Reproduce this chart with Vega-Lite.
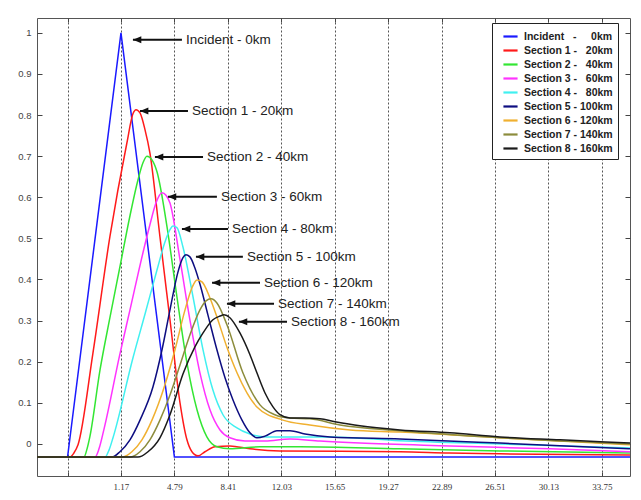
{
  "$schema": "https://vega.github.io/schema/vega-lite/v6.json",
  "width": 593,
  "height": 458,
  "autosize": {"type": "none"},
  "padding": {"left": 37, "top": 18, "right": 11, "bottom": 24},
  "background": "white",
  "config": {
    "view": {"stroke": "#555", "strokeWidth": 1},
    "font": "Liberation Sans"
  },
  "datasets": {
    "curves": [
      {"s":0,"x":-4.52,"y":-0.032},{"s":0,"x":-2.45,"y":-0.032},{"s":0,"x":1.17,"y":1.0},{"s":0,"x":4.79,"y":-0.032},{"s":0,"x":35.66,"y":-0.032},

      {"s":1,"x":-4.52,"y":-0.032},{"s":1,"x":-2.29,"y":-0.032},{"s":1,"x":-2.02,"y":-0.022},{"s":1,"x":-1.74,"y":-0.002},{"s":1,"x":-0.73,"y":0.221},{"s":1,"x":0.42,"y":0.504},{"s":1,"x":1.57,"y":0.732},{"s":1,"x":1.98,"y":0.803},{"s":1,"x":2.19,"y":0.813},{"s":1,"x":2.46,"y":0.805},{"s":1,"x":2.80,"y":0.764},{"s":1,"x":3.13,"y":0.708},{"s":1,"x":3.81,"y":0.504},{"s":1,"x":4.49,"y":0.302},{"s":1,"x":5.17,"y":0.100},{"s":1,"x":5.64,"y":0.010},{"s":1,"x":5.98,"y":-0.019},{"s":1,"x":6.39,"y":-0.029},{"s":1,"x":6.86,"y":-0.019},{"s":1,"x":7.54,"y":-0.007},{"s":1,"x":8.55,"y":-0.005},{"s":1,"x":9.91,"y":-0.012},{"s":1,"x":11.94,"y":-0.017},{"s":1,"x":20.07,"y":-0.019},{"s":1,"x":23.4,"y":-0.022},{"s":1,"x":26.85,"y":-0.024},{"s":1,"x":35.66,"y":-0.027},

      {"s":2,"x":-4.52,"y":-0.032},{"s":2,"x":-1.34,"y":-0.032},{"s":2,"x":-1.13,"y":-0.012},{"s":2,"x":-0.93,"y":0.019},{"s":2,"x":-0.25,"y":0.180},{"s":2,"x":0.42,"y":0.307},{"s":2,"x":1.10,"y":0.431},{"s":2,"x":1.78,"y":0.555},{"s":2,"x":2.32,"y":0.642},{"s":2,"x":2.66,"y":0.684},{"s":2,"x":2.93,"y":0.700},{"s":2,"x":3.27,"y":0.691},{"s":2,"x":3.61,"y":0.662},{"s":2,"x":4.29,"y":0.528},{"s":2,"x":4.96,"y":0.358},{"s":2,"x":5.64,"y":0.197},{"s":2,"x":6.32,"y":0.083},{"s":2,"x":6.99,"y":0.017},{"s":2,"x":7.67,"y":-0.007},{"s":2,"x":8.55,"y":-0.012},{"s":2,"x":10.59,"y":-0.007},{"s":2,"x":13.30,"y":-0.007},{"s":2,"x":20.07,"y":-0.012},{"s":2,"x":26.85,"y":-0.017},{"s":2,"x":35.66,"y":-0.022},

      {"s":3,"x":-4.52,"y":-0.032},{"s":3,"x":-0.59,"y":-0.032},{"s":3,"x":-0.32,"y":-0.012},{"s":3,"x":0.02,"y":0.036},{"s":3,"x":1.10,"y":0.219},{"s":3,"x":1.78,"y":0.326},{"s":3,"x":2.66,"y":0.465},{"s":3,"x":3.13,"y":0.533},{"s":3,"x":3.54,"y":0.586},{"s":3,"x":3.95,"y":0.611},{"s":3,"x":4.22,"y":0.605},{"s":3,"x":4.49,"y":0.586},{"s":3,"x":5.17,"y":0.448},{"s":3,"x":5.84,"y":0.302},{"s":3,"x":6.52,"y":0.173},{"s":3,"x":7.20,"y":0.083},{"s":3,"x":7.88,"y":0.034},{"s":3,"x":8.55,"y":0.015},{"s":3,"x":9.57,"y":0.007},{"s":3,"x":10.93,"y":0.007},{"s":3,"x":12.62,"y":0.012},{"s":3,"x":14.65,"y":0.007},{"s":3,"x":17.36,"y":0.002},{"s":3,"x":23.46,"y":-0.005},{"s":3,"x":30.24,"y":-0.012},{"s":3,"x":35.66,"y":-0.019},

      {"s":4,"x":-4.52,"y":-0.032},{"s":4,"x":0.09,"y":-0.032},{"s":4,"x":0.36,"y":-0.015},{"s":4,"x":0.63,"y":0.015},{"s":4,"x":1.98,"y":0.209},{"s":4,"x":2.80,"y":0.316},{"s":4,"x":3.61,"y":0.423},{"s":4,"x":4.15,"y":0.491},{"s":4,"x":4.49,"y":0.521},{"s":4,"x":4.69,"y":0.530},{"s":4,"x":4.96,"y":0.526},{"s":4,"x":5.37,"y":0.479},{"s":4,"x":6.05,"y":0.358},{"s":4,"x":6.73,"y":0.229},{"s":4,"x":7.40,"y":0.131},{"s":4,"x":8.08,"y":0.071},{"s":4,"x":9.03,"y":0.039},{"s":4,"x":9.91,"y":0.024},{"s":4,"x":11.06,"y":0.017},{"s":4,"x":12.62,"y":0.017},{"s":4,"x":15.33,"y":0.017},{"s":4,"x":20.07,"y":0.008},{"s":4,"x":26.85,"y":0.0},{"s":4,"x":35.66,"y":-0.010},

      {"s":5,"x":-4.52,"y":-0.032},{"s":5,"x":0.56,"y":-0.032},{"s":5,"x":1.10,"y":-0.019},{"s":5,"x":1.78,"y":0.010},{"s":5,"x":2.46,"y":0.058},{"s":5,"x":3.34,"y":0.139},{"s":5,"x":3.95,"y":0.229},{"s":5,"x":4.49,"y":0.326},{"s":5,"x":5.03,"y":0.418},{"s":5,"x":5.37,"y":0.453},{"s":5,"x":5.57,"y":0.460},{"s":5,"x":5.84,"y":0.455},{"s":5,"x":6.18,"y":0.428},{"s":5,"x":6.52,"y":0.389},{"s":5,"x":7.06,"y":0.314},{"s":5,"x":7.67,"y":0.229},{"s":5,"x":8.22,"y":0.161},{"s":5,"x":8.76,"y":0.107},{"s":5,"x":9.37,"y":0.058},{"s":5,"x":9.91,"y":0.027},{"s":5,"x":10.38,"y":0.015},{"s":5,"x":10.93,"y":0.019},{"s":5,"x":11.74,"y":0.032},{"s":5,"x":12.62,"y":0.032},{"s":5,"x":13.64,"y":0.024},{"s":5,"x":15.33,"y":0.017},{"s":5,"x":20.07,"y":0.012},{"s":5,"x":26.85,"y":0.002},{"s":5,"x":35.66,"y":-0.012},

      {"s":6,"x":-4.52,"y":-0.032},{"s":6,"x":1.24,"y":-0.032},{"s":6,"x":1.91,"y":-0.019},{"s":6,"x":2.59,"y":0.010},{"s":6,"x":3.27,"y":0.058},{"s":6,"x":4.15,"y":0.144},{"s":6,"x":4.83,"y":0.229},{"s":6,"x":5.51,"y":0.326},{"s":6,"x":5.98,"y":0.380},{"s":6,"x":6.32,"y":0.399},{"s":6,"x":6.66,"y":0.394},{"s":6,"x":7.20,"y":0.355},{"s":6,"x":7.67,"y":0.309},{"s":6,"x":8.35,"y":0.235},{"s":6,"x":9.03,"y":0.173},{"s":6,"x":10.38,"y":0.090},{"s":6,"x":12.14,"y":0.058},{"s":6,"x":13.97,"y":0.046},{"s":6,"x":16.69,"y":0.034},{"s":6,"x":20.07,"y":0.029},{"s":6,"x":26.85,"y":0.015},{"s":6,"x":35.66,"y":-0.002},

      {"s":7,"x":-4.52,"y":-0.032},{"s":7,"x":1.78,"y":-0.032},{"s":7,"x":2.46,"y":-0.019},{"s":7,"x":3.13,"y":0.010},{"s":7,"x":3.81,"y":0.058},{"s":7,"x":4.49,"y":0.119},{"s":7,"x":5.17,"y":0.192},{"s":7,"x":5.84,"y":0.265},{"s":7,"x":6.52,"y":0.326},{"s":7,"x":6.93,"y":0.348},{"s":7,"x":7.27,"y":0.353},{"s":7,"x":7.67,"y":0.343},{"s":7,"x":8.35,"y":0.290},{"s":7,"x":9.43,"y":0.173},{"s":7,"x":10.59,"y":0.095},{"s":7,"x":11.60,"y":0.071},{"s":7,"x":12.62,"y":0.063},{"s":7,"x":13.97,"y":0.061},{"s":7,"x":16.01,"y":0.046},{"s":7,"x":20.07,"y":0.032},{"s":7,"x":26.85,"y":0.015},{"s":7,"x":35.66,"y":0.0},

      {"s":8,"x":-4.52,"y":-0.032},{"s":8,"x":2.32,"y":-0.032},{"s":8,"x":3.00,"y":-0.019},{"s":8,"x":3.81,"y":0.015},{"s":8,"x":4.49,"y":0.071},{"s":8,"x":5.37,"y":0.170},{"s":8,"x":6.18,"y":0.236},{"s":8,"x":6.73,"y":0.270},{"s":8,"x":7.40,"y":0.302},{"s":8,"x":7.88,"y":0.311},{"s":8,"x":8.15,"y":0.314},{"s":8,"x":8.55,"y":0.307},{"s":8,"x":9.23,"y":0.270},{"s":8,"x":9.91,"y":0.217},{"s":8,"x":10.38,"y":0.173},{"s":8,"x":10.93,"y":0.124},{"s":8,"x":11.47,"y":0.090},{"s":8,"x":11.94,"y":0.071},{"s":8,"x":12.62,"y":0.063},{"s":8,"x":13.64,"y":0.063},{"s":8,"x":14.65,"y":0.061},{"s":8,"x":15.67,"y":0.054},{"s":8,"x":17.36,"y":0.044},{"s":8,"x":20.07,"y":0.034},{"s":8,"x":23.46,"y":0.027},{"s":8,"x":26.85,"y":0.017},{"s":8,"x":30.92,"y":0.010},{"s":8,"x":35.66,"y":0.002}
    ],
    "ann": [
      {"t":"Incident - 0km","hx":1.98,"tx":5.30,"y":0.983},
      {"t":"Section 1 - 20km","hx":2.46,"tx":5.71,"y":0.810},
      {"t":"Section 2 - 40km","hx":3.47,"tx":6.73,"y":0.698},
      {"t":"Section 3 - 60km","hx":4.35,"tx":7.67,"y":0.601},
      {"t":"Section 4 - 80km","hx":5.30,"tx":8.42,"y":0.523},
      {"t":"Section 5 - 100km","hx":6.25,"tx":9.43,"y":0.455},
      {"t":"Section 6 - 120km","hx":7.34,"tx":10.59,"y":0.392},
      {"t":"Section 7 - 140km","hx":8.35,"tx":11.54,"y":0.341},
      {"t":"Section 8 - 160km","hx":9.16,"tx":12.42,"y":0.297}
    ]
  },
  "resolve": {"axis": {"x": "independent", "y": "independent"}},
  "layer": [
    {
      "data": {"name": "curves"},
      "transform": [{"filter": "datum.s == 0"}],
      "mark": {"type": "line", "strokeWidth": 1.5, "clip": true},
      "encoding": {
        "x": {
          "field": "x", "type": "quantitative",
          "scale": {"domain": [-4.52, 35.66], "nice": false, "zero": false},
          "axis": {
            "orient": "bottom", "title": null,
            "values": [-2.45, 1.17, 4.79, 8.41, 12.03, 15.65, 19.27, 22.89, 26.51, 30.13, 33.75],
            "format": ".2f",
            "labelExpr": "datum.value < 0 ? '' : datum.label",
            "domain": false, "ticks": true, "tickSize": -4, "tickColor": "#444",
            "labelPadding": 10, "labelFont": "Liberation Serif", "labelFontSize": 9, "labelColor": "#333",
            "grid": true, "gridDash": [2, 2], "gridColor": "#555", "gridWidth": 1, "gridOpacity": 1
          }
        },
        "y": {
          "field": "y", "type": "quantitative",
          "scale": {"domain": [-0.078, 1.036], "nice": false, "zero": false},
          "axis": {
            "orient": "left", "title": null,
            "values": [0, 0.1, 0.2, 0.3, 0.4, 0.5, 0.6, 0.7, 0.8, 0.9, 1],
            "format": ".1~f",
            "domain": false, "ticks": true, "tickSize": -5, "tickColor": "#444",
            "labelPadding": 11, "labelFont": "Liberation Sans", "labelFontSize": 9.5, "labelColor": "#444",
            "grid": false
          }
        },
        "color": {
          "field": "s", "type": "nominal",
          "scale": {
            "domain": [0, 1, 2, 3, 4, 5, 6, 7, 8],
            "range": ["#1a1aff", "#ff1a1a", "#33e633", "#ff33ff", "#40f0f0", "#0d0d80", "#f0b030", "#8c8c3c", "#1a1a1a"]
          },
          "legend": {
            "title": null,
            "orient": "none", "legendX": 455, "legendY": 5,
            "labelExpr": "['Incident\u00a0\u00a0\u00a0-\u00a0\u00a0\u00a0\u00a0\u00a00km','Section 1 -\u00a0\u00a0\u00a020km','Section 2 -\u00a0\u00a0\u00a040km','Section 3 -\u00a0\u00a0\u00a060km','Section 4 -\u00a0\u00a0\u00a080km','Section 5 - 100km','Section 6 - 120km','Section 7 - 140km','Section 8 - 160km'][datum.value]",
            "symbolType": "stroke", "symbolSize": 200, "symbolStrokeWidth": 2.2, "symbolOffset": 5,
            "labelFont": "Liberation Sans", "labelFontWeight": "bold", "labelFontSize": 10.5, "labelColor": "#222",
            "labelOffset": 5, "labelLimit": 200, "rowPadding": 0,
            "padding": 5, "strokeColor": "#222", "fillColor": "white"
          }
        }
      }
    },
    {
      "data": {"name": "curves"},
      "transform": [{"filter": "datum.s > 0"}],
      "mark": {"type": "line", "strokeWidth": 1.5, "clip": true, "interpolate": "monotone"},
      "encoding": {
        "x": {"field": "x", "type": "quantitative", "scale": {"domain": [-4.52, 35.66], "nice": false, "zero": false}, "axis": null},
        "y": {"field": "y", "type": "quantitative", "scale": {"domain": [-0.078, 1.036], "nice": false, "zero": false}, "axis": null},
        "color": {"field": "s", "type": "nominal", "scale": {"domain": [0, 1, 2, 3, 4, 5, 6, 7, 8], "range": ["#1a1aff", "#ff1a1a", "#33e633", "#ff33ff", "#40f0f0", "#0d0d80", "#f0b030", "#8c8c3c", "#1a1a1a"]}}
      }
    },
    {
      "data": {"name": "ann"},
      "mark": {"type": "rule", "strokeWidth": 2, "color": "#111"},
      "encoding": {
        "x": {
          "field": "hx", "type": "quantitative",
          "scale": {"domain": [-4.52, 35.66], "nice": false, "zero": false},
          "axis": {
            "orient": "top", "title": null, "labels": false, "domain": false, "grid": false,
            "values": [-2.45, 1.17, 4.79, 8.41, 12.03, 15.65, 19.27, 22.89, 26.51, 30.13, 33.75],
            "ticks": true, "tickSize": -4, "tickColor": "#444"
          }
        },
        "x2": {"field": "tx"},
        "y": {
          "field": "y", "type": "quantitative",
          "scale": {"domain": [-0.078, 1.036], "nice": false, "zero": false},
          "axis": {
            "orient": "right", "title": null, "labels": false, "domain": false, "grid": false,
            "values": [0, 0.1, 0.2, 0.3, 0.4, 0.5, 0.6, 0.7, 0.8, 0.9, 1],
            "ticks": true, "tickSize": -5, "tickColor": "#444"
          }
        }
      }
    },
    {
      "data": {"name": "ann"},
      "mark": {"type": "point", "shape": "M0,0L1,-0.42L1,0.42Z", "filled": true, "size": 280, "color": "#111", "opacity": 1},
      "encoding": {
        "x": {"field": "hx", "type": "quantitative", "scale": {"domain": [-4.52, 35.66], "nice": false, "zero": false}, "axis": null},
        "y": {"field": "y", "type": "quantitative", "scale": {"domain": [-0.078, 1.036], "nice": false, "zero": false}, "axis": null}
      }
    },
    {
      "data": {"name": "ann"},
      "mark": {"type": "text", "align": "left", "baseline": "middle", "dx": 4, "fontSize": 13.5, "font": "Liberation Sans", "color": "#222"},
      "encoding": {
        "x": {"field": "tx", "type": "quantitative", "scale": {"domain": [-4.52, 35.66], "nice": false, "zero": false}, "axis": null},
        "y": {"field": "y", "type": "quantitative", "scale": {"domain": [-0.078, 1.036], "nice": false, "zero": false}, "axis": null},
        "text": {"field": "t"}
      }
    }
  ]
}
